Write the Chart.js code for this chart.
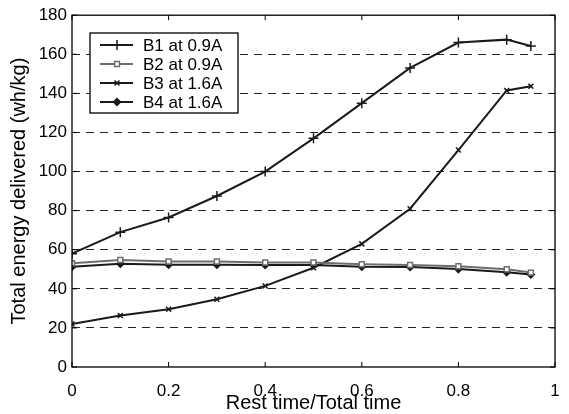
<!DOCTYPE html>
<html>
<head>
<meta charset="utf-8">
<script src="https://cdn.jsdelivr.net/npm/chart.js@4"></script>
<style>
  html, body { margin: 0; padding: 0; background: #fff; }
  #wrap { width: 569px; height: 414px; }
</style>
</head>
<body>
<div id="wrap"><canvas id="myChart"></canvas></div>
<script>
const restRatio = [0, 0.1, 0.2, 0.3, 0.4, 0.5, 0.6, 0.7, 0.8, 0.9, 0.95];
const b1 = [58, 69, 76.5, 87.5, 100, 117, 135, 153, 166, 167.5, 164.2];
const b2 = [53.1, 54.7, 54, 54, 53.5, 53.5, 52.6, 52.2, 51.5, 50, 48.3];
const b3 = [22, 26.3, 29.6, 34.7, 41.5, 50.8, 63, 81, 111, 141.5, 143.7];
const b4 = [51.3, 52.8, 52.3, 52.3, 52.2, 52.2, 51.3, 51.2, 50.1, 48.5, 47.3];
const seriesNames = ['B1 at 0.9A', 'B2 at 0.9A', 'B3 at 1.6A', 'B4 at 1.6A'];
const xTicks = [0, 0.2, 0.4, 0.6, 0.8, 1];
const yTicks = [0, 20, 40, 60, 80, 100, 120, 140, 160, 180];

const FONT = "'Liberation Sans', Arial, sans-serif";

const toPoints = (vals) => vals.map((v, i) => ({x: restRatio[i], y: v}));

// frame, inward tick marks and boxed legend like the original figure
const framePlugin = {
    id: 'frame',
    afterDatasetsDraw(chart) {
        const ctx = chart.ctx;
        const a = chart.chartArea;
        const xs = chart.scales.x, ys = chart.scales.y;
        ctx.save();
        ctx.strokeStyle = '#000';
        ctx.lineWidth = 1.3;
        ctx.strokeRect(a.left, a.top, a.right - a.left, a.bottom - a.top);
        ctx.lineWidth = 1;
        xTicks.forEach(t => {
            const px = xs.getPixelForValue(t);
            ctx.beginPath();
            ctx.moveTo(px, a.bottom); ctx.lineTo(px, a.bottom - 5);
            ctx.moveTo(px, a.top); ctx.lineTo(px, a.top + 5);
            ctx.stroke();
        });
        yTicks.forEach(t => {
            const py = ys.getPixelForValue(t);
            ctx.beginPath();
            ctx.moveTo(a.left, py); ctx.lineTo(a.left + 5, py);
            ctx.moveTo(a.right, py); ctx.lineTo(a.right - 5, py);
            ctx.stroke();
        });

        // legend box
        const bx = 90, by = 33, bw = 148, bh = 80;
        ctx.fillStyle = '#fff';
        ctx.fillRect(bx, by, bw, bh);
        ctx.strokeStyle = '#000';
        ctx.lineWidth = 1.3;
        ctx.strokeRect(bx, by, bw, bh);
        chart.data.datasets.forEach((ds, i) => {
            const cy = 45 + i * 19;
            ctx.strokeStyle = ds.borderColor;
            ctx.lineWidth = ds.borderWidth;
            ctx.beginPath();
            ctx.moveTo(100, cy); ctx.lineTo(133, cy);
            ctx.stroke();
            ctx.fillStyle = ds.pointBackgroundColor;
            ctx.strokeStyle = ds.pointBorderColor;
            ctx.lineWidth = ds.pointBorderWidth;
            Chart.helpers.drawPoint(ctx, {
                pointStyle: ds.pointStyle,
                radius: ds.pointRadius,
                borderWidth: ds.pointBorderWidth
            }, 117, cy);
            ctx.fillStyle = '#000';
            ctx.font = '17px ' + FONT;
            ctx.textBaseline = 'middle';
            ctx.textAlign = 'left';
            ctx.fillText(seriesNames[i], 143, cy + 1);
        });
        ctx.restore();
    }
};

const makeDs = (label, vals, color, style, radius, fill) => ({
    label: label,
    data: toPoints(vals),
    borderColor: color,
    backgroundColor: fill,
    borderWidth: 2,
    pointStyle: style,
    pointRadius: radius,
    pointBorderWidth: 1.5,
    pointBorderColor: color,
    pointBackgroundColor: fill,
    tension: 0
});

const data = {
    datasets: [
        makeDs(seriesNames[0], b1, '#1a1a1a', 'cross', 5, '#1a1a1a'),
        makeDs(seriesNames[1], b2, '#6e6e6e', 'rect', 3.5, '#ffffff'),
        makeDs(seriesNames[2], b3, '#1a1a1a', 'crossRot', 3.5, '#1a1a1a'),
        makeDs(seriesNames[3], b4, '#1a1a1a', 'rectRot', 3.5, '#1a1a1a')
    ]
};

const config = {
    type: 'line',
    data: data,
    options: {
        responsive: true,
        maintainAspectRatio: false,
        animation: false,
        layout: { padding: { top: 12, right: 14, left: 0, bottom: 0 } },
        plugins: {
            legend: { display: false },
            tooltip: { enabled: false }
        },
        scales: {
            x: {
                type: 'linear',
                min: 0,
                max: 1,
                afterBuildTicks: (scale) => { scale.ticks = xTicks.map(v => ({value: v})); },
                afterFit: (scale) => { scale.height = 47; },
                grid: { display: false },
                border: { display: false },
                ticks: {
                    color: '#000',
                    padding: 6,
                    font: { family: FONT, size: 17 },
                    callback: (v) => String(v)
                },
                title: {
                    display: true,
                    text: 'Rest time/Total time',
                    color: '#000',
                    padding: { top: 0, bottom: -1 },
                    font: { family: FONT, size: 20 }
                }
            },
            y: {
                min: 0,
                max: 180,
                afterBuildTicks: (scale) => { scale.ticks = yTicks.map(v => ({value: v})); },
                afterFit: (scale) => { scale.width = 72; },
                grid: {
                    drawTicks: false,
                    color: (c) => (c.tick && (c.tick.value === 0 || c.tick.value === 180)) ? 'rgba(0,0,0,0)' : '#222',
                    lineWidth: 1
                },
                border: { display: false, dash: [8, 6] },
                ticks: {
                    color: '#000',
                    padding: 5,
                    font: { family: FONT, size: 17 }
                },
                title: {
                    display: true,
                    text: 'Total energy delivered (wh/kg)',
                    color: '#000',
                    padding: { top: 7, bottom: 0 },
                    font: { family: FONT, size: 20 }
                }
            }
        }
    },
    plugins: [framePlugin]
};

const myChart = new Chart(document.getElementById('myChart'), config);
</script>
</body>
</html>
